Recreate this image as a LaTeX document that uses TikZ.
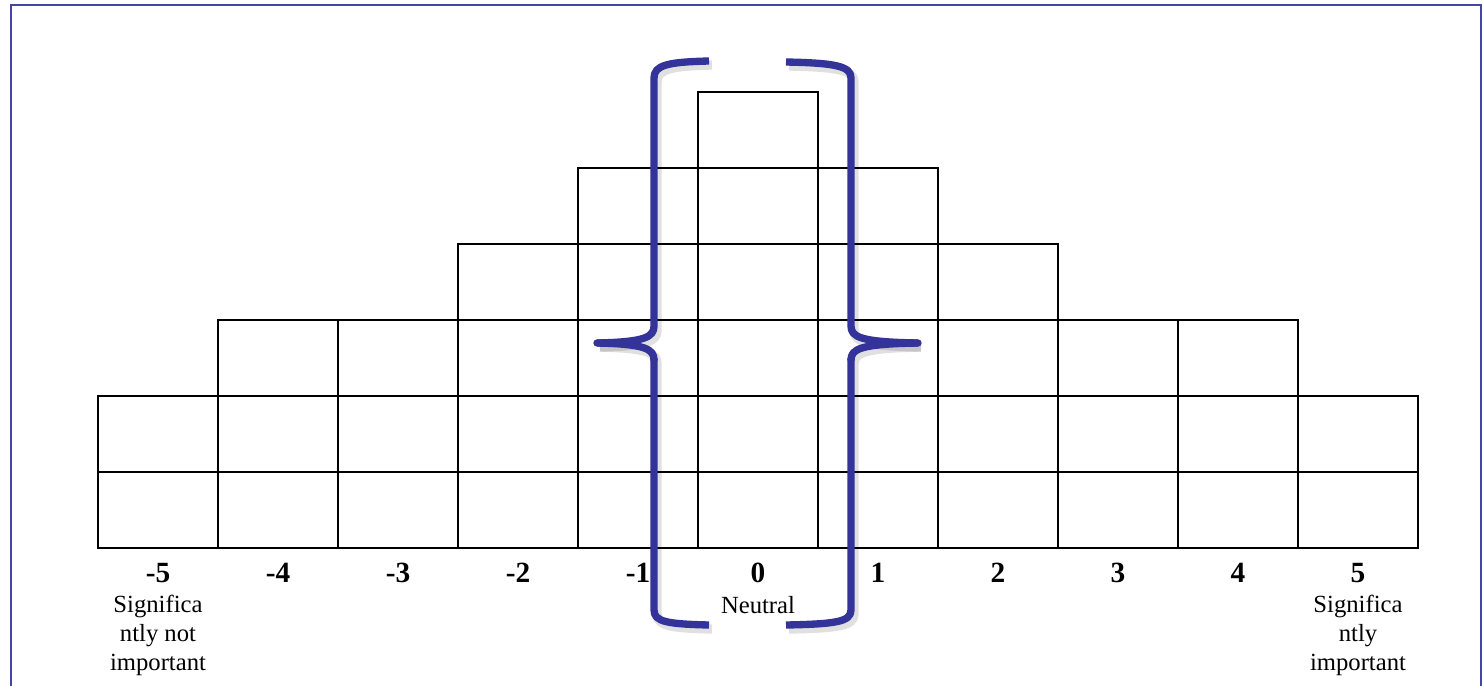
\documentclass[tikz,border=0pt]{standalone}
\usepackage{fontspec}
\setmainfont{Liberation Serif}
\definecolor{brk}{RGB}{51,51,153}
\definecolor{frm}{RGB}{68,68,170}
\tikzset{
  cell/.style={draw=black, line width=0.8pt, minimum width=90pt, minimum height=57pt, inner sep=0pt, outer sep=0pt},
  numlbl/.style={font=\fontsize{22}{24}\selectfont\bfseries, inner sep=0pt},
  desc/.style={font=\fontsize{18.5}{21.75}\selectfont, align=center, inner sep=0pt},
  brkline/.style={draw=brk, line width=5.5pt, line cap=butt, line join=round},
  brkshadow/.style={draw=black, opacity=0.12, line width=7pt, line cap=butt, line join=round},
  frame/.style={draw=frm, line width=1.6pt}
}
\begin{document}
\begin{tikzpicture}[x=0.75pt,y=-0.75pt]
\useasboundingbox (0,0) rectangle (1483,685);
% frame
\coordinate (fa) at (11,690);
\coordinate (fb) at (11,5);
\coordinate (fc) at (1481,5);
\coordinate (fd) at (1481,690);
\draw[frame] (fa) -- (fb) -- (fc) -- (fd);
% cells
\foreach \i/\h in {-5/2,-4/3,-3/3,-2/4,-1/5,0/6,1/5,2/4,3/3,4/3,5/2}{
  \foreach \r in {1,...,\h}{
    \node[cell] (c\i r\r) at ({758+120*\i},{510-76*(\r-1)}) {};
  }
  \node[numlbl] (n\i) at ({758+120*\i},573) {\i};
}
\node[desc, anchor=north] (dl) at (158,595) {Significa\\ntly not\\important};
\node[desc, anchor=north] (dr) at (1358,595) {Significa\\ntly\\important};
\node[desc] (neu) at (758,605) {Neutral};
% brackets: shadow
\begin{scope}[shift={(3,4)}]
\draw[brkshadow] (709,61) .. controls (668,62) and (654,65) .. (654,78) -- (654,326)
  .. controls (654,337) and (645,342) .. (597,343);
\draw[brkshadow] (597,343) .. controls (645,344) and (654,349) .. (654,360) -- (654,610)
  .. controls (654,622) and (668,624) .. (709,625);
\draw[brkshadow] (786,62) .. controls (835,63) and (851,66) .. (851,78) -- (851,326)
  .. controls (851,337) and (860,342) .. (918,343);
\draw[brkshadow] (918,343) .. controls (860,344) and (851,349) .. (851,360) -- (851,610)
  .. controls (851,622) and (835,624) .. (786,625);
\end{scope}
% brackets
\draw[brkline] (709,61) .. controls (668,62) and (654,65) .. (654,78) -- (654,326)
  .. controls (654,337) and (645,342) .. (597,343);
\draw[brkline, line cap=round] (597,343) .. controls (645,344) and (654,349) .. (654,360);
\draw[brkline] (654,358) -- (654,610)
  .. controls (654,622) and (668,624) .. (709,625);
\draw[brkline] (786,62) .. controls (835,63) and (851,66) .. (851,78) -- (851,326)
  .. controls (851,337) and (860,342) .. (918,343);
\draw[brkline, line cap=round] (918,343) .. controls (860,344) and (851,349) .. (851,360);
\draw[brkline] (851,358) -- (851,610)
  .. controls (851,622) and (835,624) .. (786,625);
\end{tikzpicture}
\end{document}
